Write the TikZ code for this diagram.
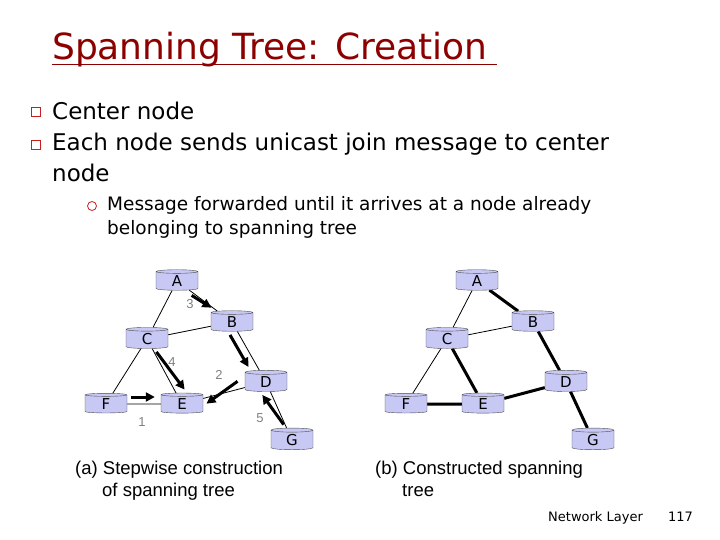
\documentclass[tikz,border=0pt]{standalone}
\usepackage{fontspec}
\setmainfont{DejaVu Sans}
\newfontfamily\arialf{Liberation Sans}
\usetikzlibrary{shapes.geometric,arrows.meta,backgrounds}
\definecolor{rt}{RGB}{200,200,245}
\definecolor{ttl}{RGB}{140,0,0}
\definecolor{bul}{RGB}{200,30,30}
\begin{document}
\begin{tikzpicture}[x=1pt,y=-1pt,
  router/.style={cylinder,shape border rotate=90,aspect=0.35,minimum width=42pt,minimum height=18pt,inner ysep=2pt,inner xsep=0pt,draw=black!70,fill=rt,font=\fontsize{15}{15}\selectfont},
  thn/.style={draw,line width=0.8pt},
  tree/.style={draw,line width=3pt},
  stp/.style={line width=3pt,-{Triangle[length=9pt,width=9pt]},shorten >=4pt,shorten <=4pt},
  num/.style={text=gray,font=\arialf\fontsize{13}{13}\selectfont},
  bx/.style={draw=bul,line width=0.8pt,minimum size=9pt,inner sep=0pt}]
\useasboundingbox (0,0) rectangle (720,540);
\node[anchor=base west,text=ttl,font=\fontsize{36}{36}\selectfont,inner sep=0pt] (title) at (52,60) {Spanning Tree: Creation};
\draw[ttl,line width=1pt] (52,65) -- (497,65);
\node[bx] (b1) at (36,112) {};
\node[bx] (b2) at (36,145) {};
\node[anchor=base west,font=\fontsize{23}{26}\selectfont,inner sep=0pt] (t1) at (52,120) {Center node};
\node[anchor=north west,font=\fontsize{23}{31}\selectfont,inner sep=0pt,align=left] (t2) at (52,133) {Each node sends unicast join message to center\\node};
\node[circle,draw=bul,line width=0.8pt,minimum size=9pt,inner sep=0pt] (b3) at (92,206) {};
\node[anchor=north west,font=\fontsize{18.5}{24}\selectfont,inner sep=0pt,align=left] (t3) at (107,196) {Message forwarded until it arrives at a node already\\belonging to spanning tree};
% left graph
\node[router] (A) at (177,281) {A};
\node[router] (B) at (232,322) {B};
\node[router] (C) at (147,339) {C};
\node[router] (D) at (266,382) {D};
\node[router] (E) at (182,404) {E};
\node[router] (F) at (106,404) {F};
\node[router] (G) at (292,440) {G};
% right graph
\node[router] (A2) at (477,281) {A};
\node[router] (B2) at (533,322) {B};
\node[router] (C2) at (447,339) {C};
\node[router] (D2) at (566,382) {D};
\node[router] (E2) at (483,404) {E};
\node[router] (F2) at (406,404) {F};
\node[router] (G2) at (593,440) {G};
\begin{pgfonlayer}{background}
\foreach \a/\b in {A/C,A/B,C/B,C/F,C/E,B/D,E/D,D/G,F/E}{\draw[thn] (\a) -- (\b);}
\foreach \a/\b in {A2/C2,C2/B2,C2/F2}{\draw[thn] (\a) -- (\b);}
\foreach \a/\b in {A2/B2,B2/D2,C2/E2,E2/D2,D2/G2,F2/E2}{\draw[tree] (\a) -- (\b);}
\end{pgfonlayer}
\draw[stp] ([xshift=2pt,yshift=-3pt]A.south east) -- ([xshift=-6pt,yshift=1pt]B.north west);
\draw[stp] ([xshift=-4pt]B.south) -- ([xshift=-4pt]D.north west);
\draw[stp] ([xshift=-4pt,yshift=3pt]D.west) -- ([yshift=-2pt]E.east);
\draw[stp] ([xshift=7pt]C.south) -- ([xshift=5pt]E.north);
\draw[stp] ([yshift=7pt]F.east) -- ([xshift=-2pt,yshift=7pt]E.west);
\draw[stp] ([xshift=-6pt]G.north) -- ([xshift=-6pt]D.south);
\node[num] (n3) at (190,304) {3};
\node[num] (n4) at (172,362) {4};
\node[num] (n2) at (219,375) {2};
\node[num] (n1) at (142,422) {1};
\node[num] (n5) at (260,418) {5};
\node[anchor=north west,font=\arialf\fontsize{18.5}{22}\selectfont,align=left,inner sep=0pt] (ca) at (75,461) {(a) Stepwise construction\\\hspace*{27pt}of spanning tree};
\node[anchor=north west,font=\arialf\fontsize{18.5}{22}\selectfont,align=left,inner sep=0pt] (cb) at (375,461) {(b) Constructed spanning\\\hspace*{27pt}tree};
\node[anchor=base west,font=\fontsize{13}{13}\selectfont,inner sep=0pt] (ft) at (548,521) {Network Layer};
\node[anchor=base west,font=\fontsize{13}{13}\selectfont,inner sep=0pt] (pg) at (668,521) {117};
\end{tikzpicture}
\end{document}
